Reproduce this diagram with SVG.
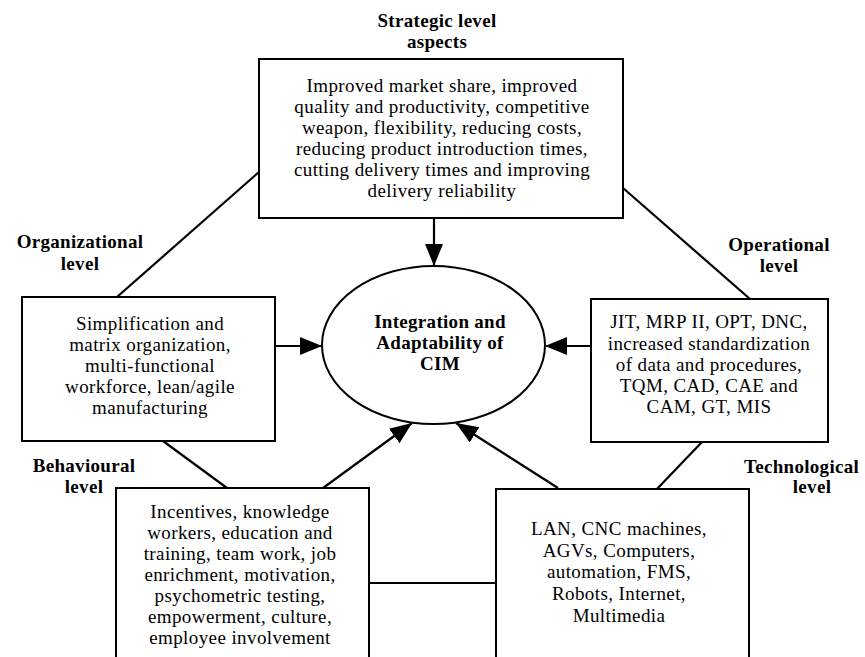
<svg xmlns="http://www.w3.org/2000/svg" width="865" height="657" viewBox="0 0 865 657">
<defs>
<marker id="ah" markerUnits="userSpaceOnUse" markerWidth="24" markerHeight="20" refX="22" refY="9" orient="auto">
<path d="M0,0 L22,9 L0,18 z" fill="#000"/>
</marker>
<style>
.box{fill:#fff;stroke:#000;stroke-width:2}
.ln{fill:none;stroke:#000;stroke-width:2.2}
.t{font-family:"Liberation Serif","Times New Roman",serif;font-size:19px;letter-spacing:0.4px;fill:#000;text-anchor:middle}
.b{font-family:"Liberation Serif","Times New Roman",serif;font-size:19px;letter-spacing:0.3px;font-weight:bold;fill:#000;text-anchor:middle}
</style>
</defs>
<rect width="865" height="657" fill="#fff"/>
<g id="connectors">
<line class="ln" x1="259" y1="172" x2="117" y2="297"/>
<line class="ln" x1="623" y1="188" x2="750" y2="299"/>
<line class="ln" x1="163" y1="441" x2="227" y2="488"/>
<line class="ln" x1="702" y1="442" x2="656" y2="490"/>
<line class="ln" x1="369" y1="583" x2="496" y2="583"/>
<line class="ln" x1="434" y1="218" x2="434" y2="266" marker-end="url(#ah)"/>
<line class="ln" x1="275" y1="346" x2="322" y2="346" marker-end="url(#ah)"/>
<line class="ln" x1="591" y1="346" x2="545" y2="346" marker-end="url(#ah)"/>
<line class="ln" x1="323" y1="488" x2="412" y2="423" marker-end="url(#ah)"/>
<line class="ln" x1="558" y1="488" x2="456" y2="423" marker-end="url(#ah)"/>
</g>
<g id="strategic">
<text class="b" x="437" y="27">Strategic level</text>
<text class="b" x="437" y="48">aspects</text>
<rect class="box" x="259" y="59" width="364" height="159"/>
<text class="t" x="442" y="92">Improved market share, improved</text>
<text class="t" x="442" y="113">quality and productivity, competitive</text>
<text class="t" x="442" y="134">weapon, flexibility, reducing costs,</text>
<text class="t" x="442" y="155">reducing product introduction times,</text>
<text class="t" x="442" y="176">cutting delivery times and improving</text>
<text class="t" x="442" y="197">delivery reliability</text>
</g>
<g id="cim">
<ellipse cx="433.5" cy="345" rx="111.5" ry="79" fill="#fff" stroke="#000" stroke-width="2"/>
<text class="b" x="440" y="328">Integration and</text>
<text class="b" x="440" y="349">Adaptability of</text>
<text class="b" x="440" y="370">CIM</text>
</g>
<g id="organizational">
<text class="b" x="80" y="248">Organizational</text>
<text class="b" x="80" y="270">level</text>
<rect class="box" x="22" y="297" width="253" height="144"/>
<text class="t" x="150" y="330">Simplification and</text>
<text class="t" x="150" y="351">matrix organization,</text>
<text class="t" x="150" y="372">multi-functional</text>
<text class="t" x="150" y="393">workforce, lean/agile</text>
<text class="t" x="150" y="414">manufacturing</text>
</g>
<g id="operational">
<text class="b" x="779" y="251">Operational</text>
<text class="b" x="779" y="272">level</text>
<rect class="box" x="591" y="299" width="237" height="143"/>
<text class="t" x="709" y="328">JIT, MRP II, OPT, DNC,</text>
<text class="t" x="709" y="350">increased standardization</text>
<text class="t" x="709" y="371">of data and procedures,</text>
<text class="t" x="709" y="392">TQM, CAD, CAE and</text>
<text class="t" x="709" y="413">CAM, GT, MIS</text>
</g>
<g id="behavioural">
<text class="b" x="84" y="472">Behavioural</text>
<text class="b" x="84" y="493">level</text>
<rect class="box" x="116" y="488" width="253" height="180"/>
<text class="t" x="240" y="518">Incentives, knowledge</text>
<text class="t" x="240" y="539">workers, education and</text>
<text class="t" x="240" y="560">training, team work, job</text>
<text class="t" x="240" y="581">enrichment, motivation,</text>
<text class="t" x="240" y="602">psychometric testing,</text>
<text class="t" x="240" y="623">empowerment, culture,</text>
<text class="t" x="240" y="644">employee involvement</text>
</g>
<g id="technological">
<text class="b" x="744" y="473" style="text-anchor:start">Technological</text>
<text class="b" x="812" y="493">level</text>
<rect class="box" x="496" y="489" width="253" height="180"/>
<text class="t" x="619" y="535">LAN, CNC machines,</text>
<text class="t" x="619" y="557">AGVs, Computers,</text>
<text class="t" x="619" y="578">automation, FMS,</text>
<text class="t" x="619" y="600">Robots, Internet,</text>
<text class="t" x="619" y="622">Multimedia</text>
</g>
</svg>
